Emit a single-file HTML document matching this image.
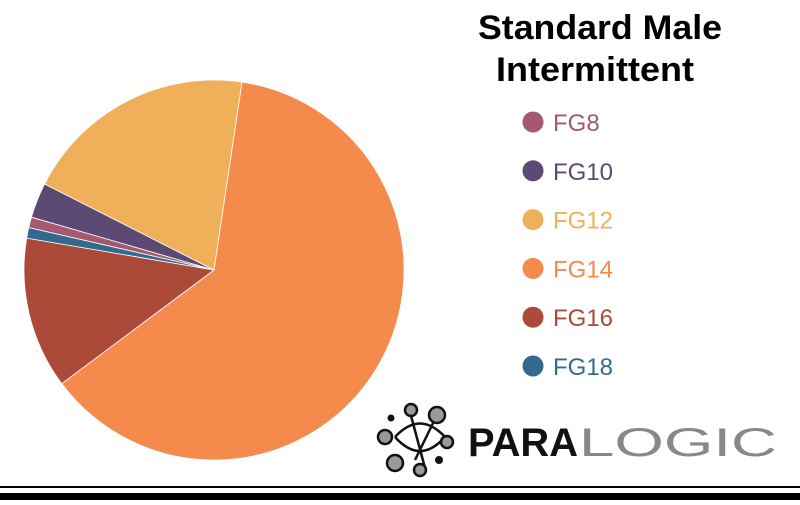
<!DOCTYPE html>
<html><head><meta charset="utf-8"><style>
body{margin:0;width:800px;height:500px;overflow:hidden;background:#fff;font-family:"Liberation Sans",sans-serif}
</style></head><body>
<svg width="800" height="500">
<g id="pie"></g>
<text x="600" y="39" text-anchor="middle" font-size="34" font-weight="bold" textLength="244" lengthAdjust="spacingAndGlyphs">Standard Male</text>
<text x="595" y="81" text-anchor="middle" font-size="34" font-weight="bold" textLength="198" lengthAdjust="spacingAndGlyphs">Intermittent</text>
<g id="legend"></g>
<g>
<g stroke="#111" stroke-width="2.5" fill="none">
<path d="M395,437 Q420,410 445,437 Q420,465 395,437"/>
<path d="M410,412 L425,468 M437,415 L415,460"/>
</g>
<circle cx="411" cy="410" r="6" fill="#999" stroke="#111" stroke-width="2.5"/>
<circle cx="437" cy="415" r="8" fill="#999" stroke="#111" stroke-width="2.5"/>
<circle cx="385" cy="437" r="7" fill="#999" stroke="#111" stroke-width="2.5"/>
<circle cx="447" cy="442" r="6" fill="#999" stroke="#111" stroke-width="2.5"/>
<circle cx="395" cy="463" r="8" fill="#999" stroke="#111" stroke-width="2.5"/>
<circle cx="420" cy="470" r="6" fill="#999" stroke="#111" stroke-width="2.5"/>
<circle cx="391" cy="418" r="3.5" fill="#111"/><circle cx="439" cy="460" r="4" fill="#111"/>
<text x="468" y="456" font-size="40" font-weight="900" fill="#111" textLength="110" lengthAdjust="spacingAndGlyphs">PARA</text>
<text x="579" y="456" font-size="40" fill="#888" textLength="198" lengthAdjust="spacingAndGlyphs">LOGIC</text>
</g>
<rect x="0" y="486" width="800" height="2" fill="#000"/>
<rect x="0" y="493" width="800" height="7" fill="#000"/>
</svg>
<script>
const categories=["FG8","FG10","FG12","FG14","FG16","FG18"];
const values=[0.9,3.0,19.9,62.5,12.9,0.9];
const colors=["#a5586f","#5c4a74","#f0b05a","#f48a4b","#ab4a38","#326a8e"];
const ns="http://www.w3.org/2000/svg";
const cx=214,cy=270,r=190,start=282.9;
const total=values.reduce((a,b)=>a+b,0);
const pie=document.getElementById('pie');
function pt(a){const t=a*Math.PI/180;return [cx+r*Math.sin(t),cy-r*Math.cos(t)];}
let a=start;
values.forEach((v,i)=>{
 const sweep=v/total*360,[x1,y1]=pt(a),[x2,y2]=pt(a+sweep);
 const p=document.createElementNS(ns,'path');
 p.setAttribute('d',`M${cx},${cy}L${x1},${y1}A${r},${r} 0 ${sweep>180?1:0} 1 ${x2},${y2}Z`);
 p.setAttribute('fill',colors[i]);p.setAttribute('stroke','#fff');p.setAttribute('stroke-width','0.8');
 
 
 pie.appendChild(p);a+=sweep;
});
const lg=document.getElementById('legend');
categories.forEach((c,i)=>{
 const y=122+i*48.8;
 const ci=document.createElementNS(ns,'circle');
 ci.setAttribute('cx',533);ci.setAttribute('cy',y);ci.setAttribute('r',10.5);ci.setAttribute('fill',colors[i]);
 
 
 lg.appendChild(ci);
 const t=document.createElementNS(ns,'text');
 t.setAttribute('x',553);t.setAttribute('y',y+9);t.setAttribute('font-size','24');t.setAttribute('fill',colors[i]);
 t.textContent=c;
 
 
 lg.appendChild(t);
});
</script>
</body></html>
